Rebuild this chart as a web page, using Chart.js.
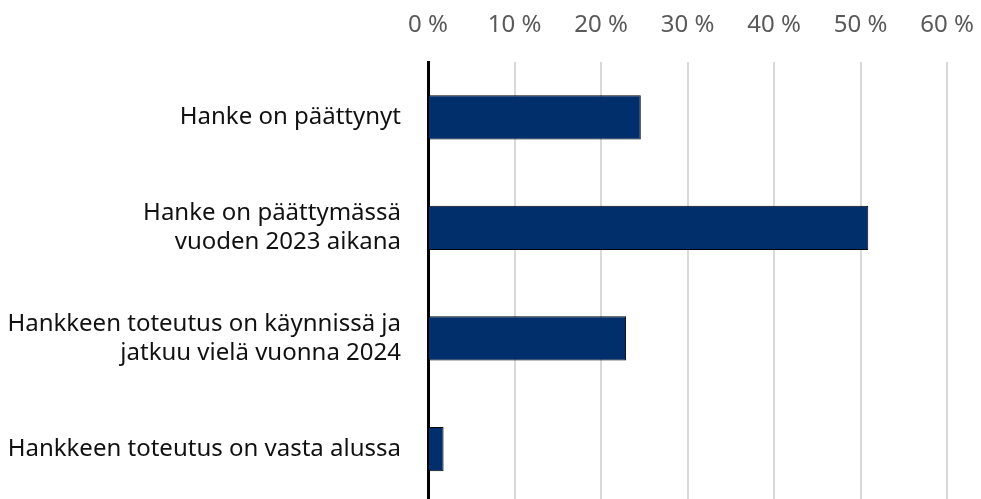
<!DOCTYPE html>
<html>
<head>
<meta charset="utf-8">
<script src="https://cdn.jsdelivr.net/npm/chart.js@4/dist/chart.umd.min.js"></script>
<style>
  html, body { margin: 0; padding: 0; background: #fff; overflow: hidden; }
  #wrap { position: relative; width: 981px; height: 546px; }
</style>
</head>
<body>
<div id="wrap"><canvas id="chart"></canvas></div>
<script>
// Hankkeiden tilanne (%)
const kategoriat = [
    ['Hanke on päättynyt'],
    ['Hanke on päättymässä', 'vuoden 2023 aikana'],
    ['Hankkeen toteutus on käynnissä ja', 'jatkuu vielä vuonna 2024'],
    ['Hankkeen toteutus on vasta alussa']
];
const osuudet = [24.6, 50.9, 22.9, 1.8];
const xTiks = [0, 10, 20, 30, 40, 50, 60];

const fontti = '"Noto Sans", sans-serif';

new Chart(document.getElementById('chart'), {
    type: 'bar',
    data: {
        labels: kategoriat,
        datasets: [{
            data: osuudet,
            backgroundColor: '#002F6C',
            borderColor: '#000',
            borderWidth: 1,
            barPercentage: 0.4,
            categoryPercentage: 1
        }]
    },
    options: {
        indexAxis: 'y',
        responsive: true,
        maintainAspectRatio: false,
        animation: false,
        layout: { padding: { left: 0, right: 34, top: 0, bottom: 0 } },
        plugins: { legend: { display: false }, tooltip: { enabled: false } },
        scales: {
            x: {
                position: 'top',
                min: 0,
                max: 60,
                afterBuildTicks: s => { s.ticks = xTiks.map(v => ({ value: v })); },
                afterFit: s => {
                    s.height = 62;
                    s.paddingLeft = 0;
                    s.paddingRight = 0;
                },
                grid: { color: '#d9d9d9', lineWidth: 2, drawTicks: false },
                border: { display: false },
                ticks: {
                    padding: 22,
                    color: '#595959',
                    font: { family: fontti, size: 24 },
                    callback: v => v + ' %'
                }
            },
            y: {
                afterFit: s => { s.width = 428; },
                grid: { display: false, drawTicks: false },
                border: { color: '#000', width: 3 },
                ticks: {
                    padding: 27,
                    color: '#111',
                    font: { family: fontti, size: 24, lineHeight: 1.22 }
                }
            }
        }
    }
});
</script>
</body>
</html>
